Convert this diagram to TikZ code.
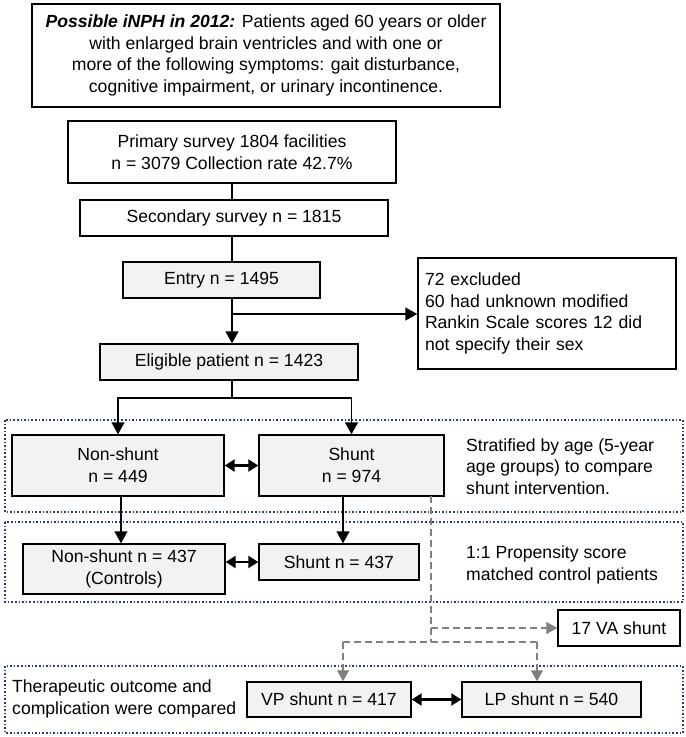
\documentclass[tikz,border=0pt]{standalone}
\usepackage{fontspec}
\setmainfont{Liberation Sans}
\usetikzlibrary{arrows.meta}
\definecolor{boxgray}{RGB}{242,242,242}
\definecolor{dotblue}{RGB}{40,60,125}
\definecolor{dashgray}{RGB}{128,128,128}
\begin{document}
\begin{tikzpicture}[x=1pt,y=-1pt,
  font=\fontsize{17.6}{21.6}\selectfont,
  wbox/.style={draw, line width=1.4pt, fill=white, inner sep=0pt, align=center},
  gbox/.style={draw, line width=1.4pt, fill=boxgray, inner sep=0pt, align=center},
  arr/.style={line width=1.4pt, -{Triangle[length=12pt,width=13pt]}},
  plain/.style={line width=1.4pt},
  dbl/.style={line width=2.2pt, {Triangle[length=10pt,width=12pt]}-{Triangle[length=10pt,width=12pt]}},
  dotbox/.style={draw=dotblue, line width=1.6pt, dotted},
  dashln/.style={draw=dashgray, line width=1.3pt, dash pattern=on 7pt off 4pt},
  dasharr/.style={dashln, -{Triangle[length=11pt,width=12pt]}, dashgray},
  note/.style={align=left, inner sep=0pt, anchor=west}]
\useasboundingbox (0,0) rectangle (686,737);

% dotted group frames
\draw[dotbox] (5,420) rectangle (683,512);
\draw[dotbox] (5,522) rectangle (683,602);
\draw[dotbox] (5,666) rectangle (683,733);

% boxes
\node[wbox, minimum width=468, minimum height=103] (top) at (266,55.5)
  {\textbf{\textit{Possible iNPH in 2012:}} Patients aged 60 years or older\\
   with enlarged brain ventricles and with one or\\
   more of the following symptoms: gait disturbance,\\
   cognitive impairment, or urinary incontinence.};
\node[wbox, minimum width=328, minimum height=62] (prim) at (232,152)
  {Primary survey 1804 facilities\\ n = 3079 Collection rate 42.7\%};
\node[wbox, minimum width=308, minimum height=36] (sec) at (234,218)
  {Secondary survey n = 1815};
\node[gbox, minimum width=197, minimum height=36] (ent) at (221.5,280)
  {Entry n = 1495};
\node[wbox, minimum width=258, minimum height=111, align=left, text width=244] (excl) at (547,313.5)
  {72 excluded\\ 60 had unknown modified\\ Rankin Scale scores 12 did\\ not specify their sex};
\node[gbox, minimum width=258, minimum height=36] (elig) at (229,362)
  {Eligible patient n = 1423};
\node[gbox, minimum width=212, minimum height=61] (ns) at (118,465.5)
  {Non-shunt\\ n = 449};
\node[gbox, minimum width=185, minimum height=61] (sh) at (351.5,465.5)
  {Shunt\\ n = 974};
\node[gbox, minimum width=202, minimum height=50] (ns2) at (124,569)
  {Non-shunt n = 437\\ (Controls)};
\node[gbox, minimum width=160, minimum height=36] (sh2) at (339,562)
  {Shunt n = 437};
\node[wbox, minimum width=122, minimum height=36] (va) at (619,628)
  {17 VA shunt};
\node[gbox, minimum width=164, minimum height=35] (vp) at (329,699.5)
  {VP shunt n = 417};
\node[gbox, minimum width=179, minimum height=35] (lp) at (551.5,699.5)
  {LP shunt n = 540};

% side notes
\node[note] (strat) at (466,466.5) {Stratified by age (5-year\\ age groups) to compare\\ shunt intervention.};
\node[note] (prop) at (466,565) {1:1 Propensity score\\ matched control patients};
\node[note] (ther) at (12,699) {Therapeutic outcome and\\ complication were compared};

% main spine
\draw[plain] (prim.south) -- (prim.south |- sec.north);
\draw[plain] (prim.south |- sec.south) -- (prim.south |- ent.north);
\draw[arr] (prim.south |- ent.south) -- (prim.south |- elig.north);
\coordinate (exbr) at (232,314);
\draw[arr] (exbr) -- (exbr -| excl.west);

% split
\coordinate (split) at (232,398);
\draw[plain] (prim.south |- elig.south) -- (split);
\draw[arr] (split) -| (ns.north);
\draw[arr] (split) -| (sh.north);

% down to matched
\draw[arr] (ns.south) ++(3,0) coordinate (nsd) -- (nsd |- ns2.north);
\coordinate (shd) at (343,496);
\draw[arr] (shd) -- (shd |- sh2.north);

% double arrows
\draw[dbl] (ns.east) -- (sh.west);
\draw[dbl] (ns2.east |- sh2.west) -- (sh2.west);
\draw[dbl] (vp.east) -- (lp.west);

% dashed shunt split
\coordinate (d0) at (431,496);
\coordinate (dva) at (431,628);
\coordinate (d1) at (431,642);
\coordinate (dl) at (343,642);
\coordinate (dr) at (537,642);
\draw[dashln] (d0) -- (d1);
\draw[dasharr] (dva) -- (va.west);
\draw[dashln] (dl) -- (dr);
\draw[dasharr] (dl) -- (dl |- vp.north);
\draw[dasharr] (dr) -- (dr |- lp.north);
\end{tikzpicture}
\end{document}
